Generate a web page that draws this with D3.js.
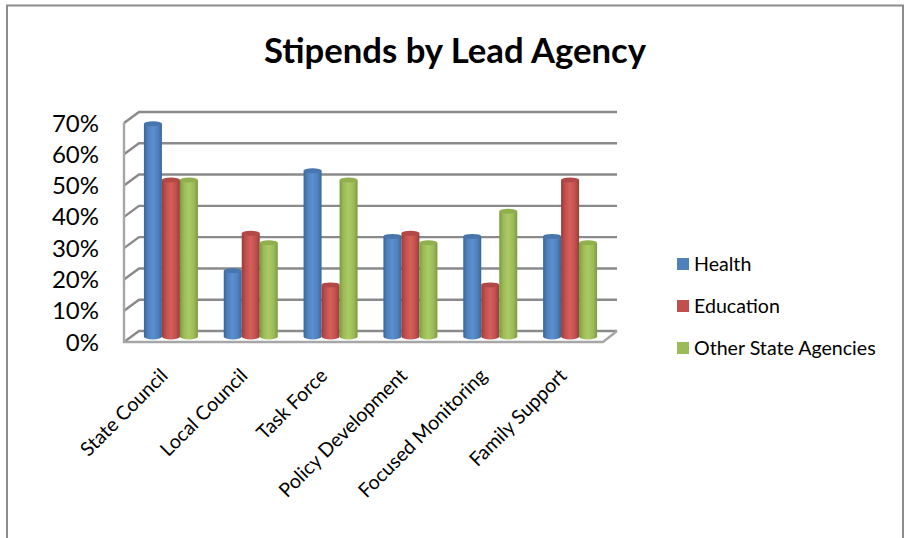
<!DOCTYPE html>
<html><head><meta charset="utf-8">
<style>html,body{margin:0;padding:0;background:#fff}svg{display:block}text{font-family:Lato,"Open Sans",sans-serif;fill:#000}</style>
<script src="https://cdn.jsdelivr.net/npm/d3@7"></script></head>
<body><script>
const categories=["State Council","Local Council","Task Force","Policy Development","Focused Monitoring","Family Support"];
const seriesNames=["Health","Education","Other State Agencies"];
const health=[0.68,0.21,0.53,0.32,0.32,0.32];
const education=[0.50,0.33,0.165,0.33,0.165,0.50];
const other=[0.50,0.30,0.50,0.30,0.40,0.30];
const yTicks=[0,0.1,0.2,0.3,0.4,0.5,0.6,0.7];
const colors=["#4f81bd","#c0504d","#9bbb59"];
const darks=["#3a6699","#963c39","#7a9a42"];
const lights=["#5b90cf","#d65f5b","#abcb62"];
const caps=["#4675ad","#b04a47","#90b04f"];

const W=904,H=538;
const svg=d3.select("body").append("svg").attr("width",W).attr("height",H);
const defs=svg.append("defs");
const blur=defs.append("filter").attr("id","soft").attr("x","-10%").attr("y","-10%").attr("width","120%").attr("height","120%");
blur.append("feGaussianBlur").attr("stdDeviation",0.7);
colors.forEach((c,i)=>{
  const g=defs.append("linearGradient").attr("id","g"+i).attr("x1",0).attr("x2",1).attr("y1",0).attr("y2",0);
  [[0,darks[i]],[0.22,c],[0.5,lights[i]],[0.78,c],[1,darks[i]]].forEach(s=>g.append("stop").attr("offset",s[0]).attr("stop-color",s[1]));
});
// frame
svg.append("path").attr("d",`M7 ${H}V5.5H903V${H}`).attr("fill","none").attr("stroke","#8c8c8c").attr("stroke-width",2);

svg.append("text").attr("x",455).attr("y",63).attr("text-anchor","middle").attr("font-size",34.7).attr("font-weight",700).text("Stipends by Lead Agency");

const x=d3.scaleBand().domain(categories).range([124,603]);
const y=d3.scaleLinear().domain([0,0.7]).range([342,123]);
const dx=15,dy=-11;
const walls=svg.append("g").attr("filter","url(#soft)").attr("fill","none");
walls.selectAll("path.grid").data(yTicks).join("path").attr("class","grid")
  .attr("d",d=>`M${x.range()[0]} ${y(d)}L${x.range()[0]+dx} ${y(d)+dy}H${x.range()[1]+14}`)
  .attr("stroke",d=>"#8a8a8a").attr("stroke-width",2.4);
walls.append("path").attr("d",`M124 ${y(0.7)}V${y(0)}H${x.range()[1]}L${x.range()[1]+14} ${y(0)+dy}`)
  .attr("stroke","#a6a6a6").attr("stroke-width",2.4);

// y labels
svg.append("g").selectAll("text").data(yTicks).join("text")
  .attr("x",99).attr("y",d=>y(d)+8.5).attr("text-anchor","end").attr("font-size",24)
  .text(d3.format(".0%"));

// bars
const series=[health,education,other];
const xIn=d3.scaleBand().domain(d3.range(3)).range([0,54]);
const base=y(0)-5.5;
const bars=svg.append("g").attr("filter","url(#soft)");
categories.forEach((cat,ci)=>{
  const gx=x(cat)+x.bandwidth()/2+7-27;
  [0,1,2].forEach(si=>{
    const v=series[si][ci];
    const bx=gx+xIn(si), bw=xIn.bandwidth(), top=base-(y(0)-y(v));
    bars.append("path")
      .attr("d",`M${bx} ${top}V${base}A${bw/2} 3 0 0 0 ${bx+bw} ${base}V${top}Z`)
      .attr("fill",`url(#g${si})`);
    bars.append("ellipse").attr("cx",bx+bw/2).attr("cy",top).attr("rx",bw/2).attr("ry",2.5).attr("fill",caps[si]);
  });
});

// category labels
svg.append("g").selectAll("text").data(categories).join("text")
  .attr("text-anchor","end").attr("font-size",19.6)
  .attr("transform",d=>`translate(${x(d)+x.bandwidth()/2+5},377) rotate(-45)`)
  .text(d=>d);

// legend
const legY=d3.scalePoint().domain(seriesNames).range([264,348]);
const leg=svg.append("g").selectAll("g").data(seriesNames).join("g").attr("transform",d=>`translate(677,${legY(d)})`);
leg.append("rect").attr("y",-6).attr("width",12).attr("height",12).attr("fill",(d,i)=>colors[i]);
leg.append("text").attr("x",17).attr("y",6.5).attr("font-size",19.6).text(d=>d);
</script></body></html>
